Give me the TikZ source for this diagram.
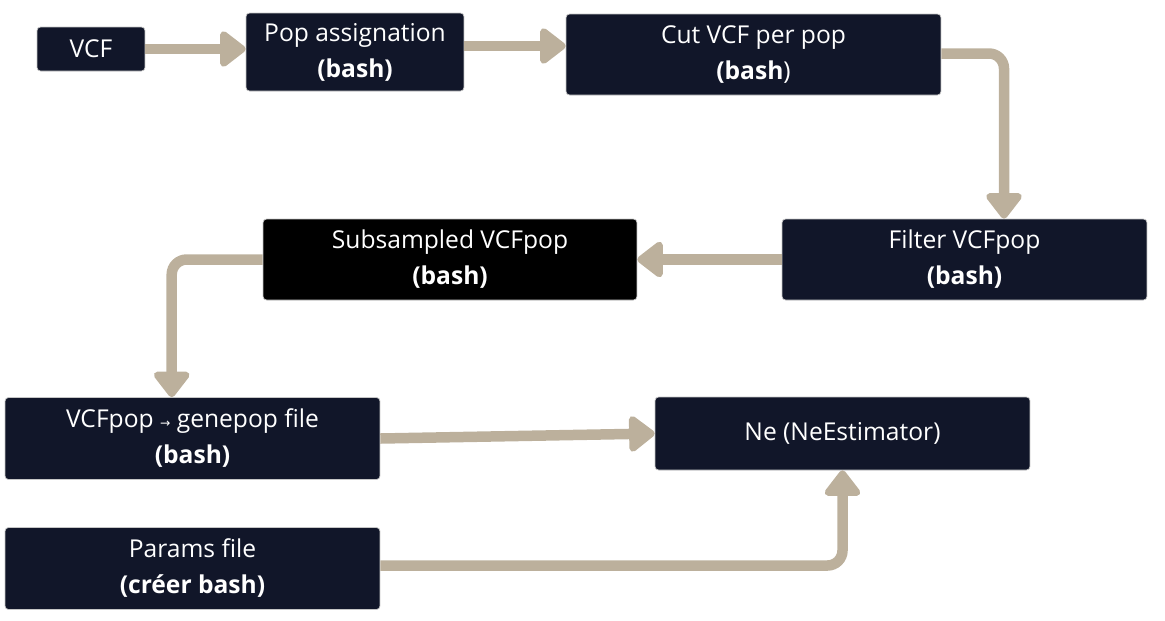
\documentclass[tikz,border=0pt]{standalone}
\usepackage{fontspec}
\setmainfont{Open Sans}
\newfontfamily\symboles{DejaVu Sans}
\usepackage{tikz}
\usetikzlibrary{arrows.meta}
\definecolor{marinefonce}{RGB}{17, 22, 41}
\definecolor{beigedoux}{RGB}{188, 176, 156}

\begin{document}
\begin{tikzpicture}[x=0.02cm, y=-0.02cm, font=\fontsize{14}{20.5}\selectfont,
    boite/.style={fill=marinefonce, draw=gray!45, line width=0.4pt, rounded corners=2pt,
      text=white, align=center, inner sep=0pt},
    fleche/.style={draw=beigedoux, line width=0.21cm, rounded corners=0.3cm,
      -{Triangle[length=0.56cm, width=0.82cm, round]}}]
    \useasboundingbox (0,0) rectangle (1165,620);
    % les étapes
    \node[boite, minimum width=2.16cm, minimum height=0.88cm] (vcf) at (91,49) {VCF};
    \node[boite, minimum width=4.36cm, minimum height=1.56cm] (popassign) at (355,52)
      {Pop assignation\\\textbf{(bash)}};
    \node[boite, minimum width=7.5cm, minimum height=1.62cm] (cutvcf) at (753.5,54.5)
      {Cut VCF per pop\\\textbf{(bash})};
    \node[boite, minimum width=7.3cm, minimum height=1.62cm] (filtre) at (964.5,259.5)
      {Filter VCFpop\\\textbf{(bash)}};
    \node[boite, fill=black, minimum width=7.48cm, minimum height=1.62cm] (souspop) at (450,259.5)
      {Subsampled VCFpop\\\textbf{(bash)}};
    \node[boite, minimum width=7.5cm, minimum height=1.64cm] (genepop) at (192.5,438.5)
      {VCFpop {\symboles\scriptsize →} genepop file\\\textbf{(bash)}};
    \node[boite, minimum width=7.5cm, minimum height=1.46cm] (ne) at (842.5,433.5)
      {Ne (NeEstimator)};
    \node[boite, minimum width=7.5cm, minimum height=1.64cm] (params) at (192.5,568.5)
      {Params file\\\textbf{(créer bash)}};
    % points de passage des flèches
    \coordinate (depart2) at ([yshift=0.12cm]popassign.east);
    \coordinate (arrivee3) at ([xshift=0.79cm]filtre.north);
    \coordinate (coude5) at ([xshift=-1.82cm]souspop.west);
    % les flèches
    \draw[fleche] (vcf.east) -- (vcf.east -| popassign.west);
    \draw[fleche] (depart2) -- (depart2 -| cutvcf.west);
    \draw[fleche] ([yshift=0.02cm]cutvcf.east) -| (arrivee3);
    \draw[fleche] (filtre.west) -- (souspop.east);
    \draw[fleche] (souspop.west) -| (coude5 |- genepop.north);
    \draw[fleche] (genepop.east) -- (ne.west);
    \draw[fleche] ([yshift=0.06cm]params.east) -| (ne.south);
  \end{tikzpicture}
\end{document}
